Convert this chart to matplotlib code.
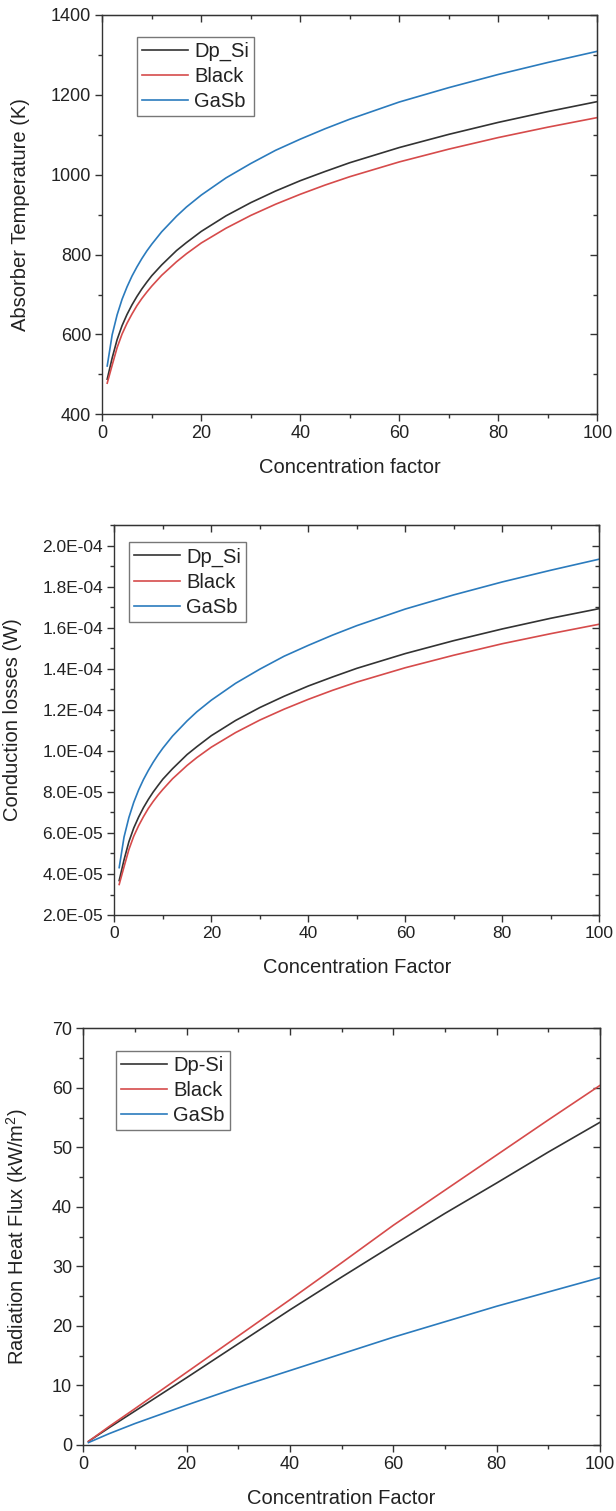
import numpy as np
import matplotlib
matplotlib.use("Agg")
import matplotlib.pyplot as plt
from matplotlib.ticker import MultipleLocator, FuncFormatter

plt.rcParams['font.family'] = ['Liberation Sans', 'DejaVu Sans']
plt.rcParams['mathtext.default'] = 'regular'

# Concentration factor samples
conc = [1, 2, 3, 4, 5, 6, 7, 8, 9, 10, 12, 15, 17, 20, 25, 30, 35, 40, 45, 50, 60, 70, 80, 90, 100]

# Absorber temperature (K)
temp_dpsi = [488, 541, 587, 622, 650, 674, 695, 714, 731, 747, 774, 810, 830, 858, 897, 930, 959, 985, 1008, 1030, 1068, 1101, 1131, 1158, 1183]
temp_black = [478, 523, 567, 601, 628, 651, 672, 690, 706, 721, 748, 782, 802, 829, 866, 898, 926, 951, 974, 995, 1032, 1064, 1093, 1119, 1143]
temp_gasb = [521, 599, 649, 688, 719, 746, 769, 790, 809, 826, 857, 896, 919, 949, 992, 1028, 1061, 1089, 1115, 1139, 1182, 1218, 1251, 1281, 1309]

# Conduction losses (W), in units of 1e-5
cond_dpsi = [3.68, 4.69, 5.57, 6.24, 6.77, 7.23, 7.63, 7.99, 8.31, 8.62, 9.13, 9.82, 10.20, 10.74, 11.48, 12.11, 12.66, 13.16, 13.60, 14.02, 14.74, 15.37, 15.94, 16.46, 16.93]
cond_black = [3.49, 4.35, 5.19, 5.84, 6.35, 6.79, 7.19, 7.53, 7.84, 8.12, 8.64, 9.29, 9.67, 10.18, 10.89, 11.50, 12.03, 12.51, 12.95, 13.35, 14.05, 14.66, 15.22, 15.71, 16.17]
cond_gasb = [4.31, 5.80, 6.75, 7.49, 8.09, 8.60, 9.04, 9.44, 9.80, 10.13, 10.72, 11.46, 11.90, 12.47, 13.29, 13.98, 14.61, 15.14, 15.64, 16.10, 16.91, 17.60, 18.23, 18.80, 19.34]

# Radiation heat flux (kW/m2)
conc_rad = [1, 5, 10, 20, 30, 40, 50, 60, 70, 80, 90, 100]
rad_dpsi = [0.6, 2.9, 5.7, 11.3, 17.0, 22.7, 28.2, 33.6, 38.9, 44.0, 49.2, 54.2]
rad_black = [0.6, 3.1, 6.1, 12.2, 18.3, 24.4, 30.6, 36.9, 42.8, 48.7, 54.6, 60.4]
rad_gasb = [0.4, 1.9, 3.6, 6.7, 9.7, 12.5, 15.3, 18.1, 20.7, 23.3, 25.7, 28.1]

c_dp = '#333333'
c_bl = '#d64b4b'
c_ga = '#2b7bbd'
txt = '#222222'
lw = 1.2


def style(ax, ymaj, ymin, tsize):
    ax.set_xlim(0, 100)
    ax.xaxis.set_major_locator(MultipleLocator(20))
    ax.xaxis.set_minor_locator(MultipleLocator(10))
    ax.yaxis.set_major_locator(MultipleLocator(ymaj))
    ax.yaxis.set_minor_locator(MultipleLocator(ymin))
    ax.tick_params(which='both', direction='out', top=False, right=False,
                   color='#333333', width=1, labelcolor=txt)
    ax.tick_params(which='major', length=5, labelsize=tsize, pad=3)
    ax.tick_params(which='minor', length=3)
    for s in ax.spines.values():
        s.set_color('#333333')
        s.set_linewidth(1)
    # mirrored ticks pointing inward on top and right
    sx = ax.secondary_xaxis('top')
    sx.xaxis.set_major_locator(MultipleLocator(20))
    sx.xaxis.set_minor_locator(MultipleLocator(10))
    sx.tick_params(which='both', direction='in', labeltop=False, color='#333333', width=1)
    sx.tick_params(which='major', length=5)
    sx.tick_params(which='minor', length=3)
    sy = ax.secondary_yaxis('right')
    sy.yaxis.set_major_locator(MultipleLocator(ymaj))
    sy.yaxis.set_minor_locator(MultipleLocator(ymin))
    sy.tick_params(which='both', direction='in', labelright=False, color='#333333', width=1)
    sy.tick_params(which='major', length=5)
    sy.tick_params(which='minor', length=3)


def legend(ax, x, y, labels):
    leg = ax.legend(labels, loc='upper left', bbox_to_anchor=(x, y), borderaxespad=0,
                    fontsize=14.5, frameon=True, fancybox=False, edgecolor='#555555',
                    handlelength=2.3, handletextpad=0.3, labelspacing=0.3,
                    borderpad=0.25)
    leg.get_frame().set_linewidth(1)
    for t in leg.get_texts():
        t.set_color(txt)


fig = plt.figure(figsize=(6.16, 15.11), dpi=100)

# Panel 1: absorber temperature
ax1 = fig.add_axes([0.166, 0.7258, 0.8036, 0.2643])
ax1.plot(conc, temp_dpsi, color=c_dp, lw=lw)
ax1.plot(conc, temp_black, color=c_bl, lw=lw)
ax1.plot(conc, temp_gasb, color=c_ga, lw=lw)
ax1.set_ylim(400, 1400)
style(ax1, 200, 100, 13)
ax1.set_xlabel('Concentration factor', fontsize=14.5, color=txt)
ax1.set_ylabel('Absorber Temperature (K)', fontsize=14.5, color=txt)
ax1.xaxis.set_label_coords(0.5, -0.11)
ax1.yaxis.set_label_coords(-0.145, 0.5)
legend(ax1, 0.07, 0.945, ['Dp_Si', 'Black', 'GaSb'])

# Panel 2: conduction losses
ax2 = fig.add_axes([0.1856, 0.3944, 0.7873, 0.2581])
ax2.plot(conc, np.array(cond_dpsi) * 1e-5, color=c_dp, lw=lw)
ax2.plot(conc, np.array(cond_black) * 1e-5, color=c_bl, lw=lw)
ax2.plot(conc, np.array(cond_gasb) * 1e-5, color=c_ga, lw=lw)
ax2.set_ylim(2e-5, 2.1e-4)
style(ax2, 2e-5, 1e-5, 12.5)
ax2.yaxis.set_major_formatter(FuncFormatter(lambda v, p: f'{v:.1E}'))
ax2.set_xlabel('Concentration Factor', fontsize=14.5, color=txt)
ax2.set_ylabel('Conduction losses (W)', fontsize=14.5, color=txt)
ax2.xaxis.set_label_coords(0.5, -0.11)
ax2.yaxis.set_label_coords(-0.19, 0.5)
legend(ax2, 0.03, 0.956, ['Dp_Si', 'Black', 'GaSb'])

# Panel 3: radiation heat flux
ax3 = fig.add_axes([0.1352, 0.0437, 0.8388, 0.2758])
ax3.plot(conc_rad, rad_dpsi, color=c_dp, lw=lw)
ax3.plot(conc_rad, rad_black, color=c_bl, lw=lw)
ax3.plot(conc_rad, rad_gasb, color=c_ga, lw=lw)
ax3.set_ylim(0, 70)
style(ax3, 10, 5, 13)
ax3.set_xlabel('Concentration Factor', fontsize=14.5, color=txt)
ax3.set_ylabel('Radiation Heat Flux (kW/m$^2$)', fontsize=14.5, color=txt)
ax3.xaxis.set_label_coords(0.5, -0.105)
ax3.yaxis.set_label_coords(-0.103, 0.5)
legend(ax3, 0.063, 0.946, ['Dp-Si', 'Black', 'GaSb'])

fig.savefig('out.png', dpi=100)
